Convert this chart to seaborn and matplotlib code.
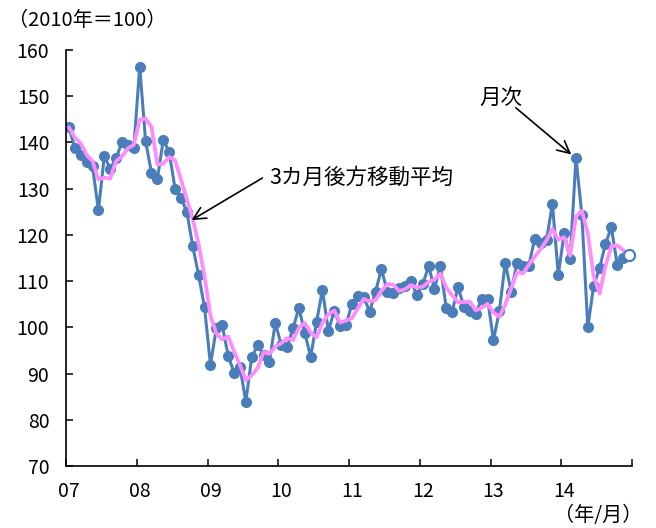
import numpy as np
import pandas as pd
import matplotlib
matplotlib.use('Agg')
import matplotlib.pyplot as plt
import seaborn as sns

# ---- data (2010 = 100), monthly Jan 2007 .. Dec 2014 ----
year_labels = ['07', '08', '09', '10', '11', '12', '13', '14']
v2007 = [143.3, 138.8, 137.3, 135.8, 134.8, 125.3, 137.1, 134.2, 136.6, 140.1, 139.5, 138.8]
v2008 = [156.4, 140.3, 133.4, 132.1, 140.6, 137.9, 130.0, 128.0, 125.0, 117.5, 111.3, 104.3]
v2009 = [91.9, 99.8, 100.4, 93.9, 90.2, 91.5, 83.9, 93.5, 96.2, 94.1, 92.5, 101.0]
v2010 = [96.2, 95.7, 99.8, 104.2, 98.8, 93.6, 101.2, 108.1, 99.2, 103.6, 100.3, 100.5]
v2011 = [105.1, 106.8, 106.6, 103.4, 107.7, 112.6, 107.7, 107.4, 108.5, 108.9, 110.0, 107.0]
v2012 = [109.3, 113.2, 108.4, 113.3, 104.1, 103.4, 108.7, 104.4, 103.6, 102.9, 106.2, 106.2]
v2013 = [97.2, 103.5, 114.0, 107.7, 114.0, 113.3, 113.3, 119.2, 118.3, 118.9, 126.7, 111.3]
v2014 = [120.5, 114.7, 136.7, 124.3, 100.0, 109.0, 112.8, 118.1, 121.6, 113.5, 115.0, 115.7]

monthly = v2007 + v2008 + v2009 + v2010 + v2011 + v2012 + v2013 + v2014
df = pd.DataFrame({'idx': np.arange(len(monthly)), 'monthly': monthly})
df['ma3'] = df['monthly'].rolling(3, min_periods=1).mean()

blue = '#4A7EBB'
pink = '#FF8CFF'

sns.set_theme(style='white')
plt.rcParams['font.family'] = ['Noto Sans CJK JP', 'DejaVu Sans']

fig = plt.figure(figsize=(6.56, 5.28), dpi=100)
W, H = 656, 528
ax = fig.add_axes([66 / W, 1 - 466 / H, (632 - 66) / W, (466 - 50) / H])

n = len(df)
sns.lineplot(data=df, x='idx', y='monthly', ax=ax, color=blue, linewidth=2.2,
             marker='o', markersize=8, markeredgewidth=0,
             markevery=list(range(n - 1)), zorder=2)
sns.lineplot(data=df, x='idx', y='ma3', ax=ax, color=pink, linewidth=2.7, zorder=3)
last = df.iloc[[-1]]
ax.plot(last['idx'], last['monthly'], 'o', mfc='white', mec=blue, ms=8, mew=1.6,
        zorder=4, clip_on=False)

ax.set_xlim(-0.5, n - 0.5)
ax.set_ylim(70, 160)
ax.set_yticks(np.arange(70, 161, 10))
ax.set_xticks(np.arange(-0.5, n, 12))
ax.set_xticklabels([])
ax.set_xticks(np.arange(0, n, 12), minor=True)
ax.set_xticklabels(year_labels, minor=True)
ax.set_xlabel('')
ax.set_ylabel('')

for s in ['top', 'right']:
    ax.spines[s].set_visible(False)
for s in ['left', 'bottom']:
    ax.spines[s].set_color('black')
    ax.spines[s].set_linewidth(1.2)

ax.tick_params(axis='both', which='major', direction='in', length=5, width=1.1,
               color='black', labelsize=14, labelcolor='black')
ax.tick_params(axis='y', which='major', pad=12, left=True)
ax.tick_params(axis='x', which='major', bottom=True)
ax.tick_params(axis='x', which='minor', length=0, pad=11, labelsize=14, labelcolor='black')

fig.text(8 / W, 1 - 20 / H, '（2010年＝100）', ha='left', va='center', fontsize=14.5, color='black')
fig.text(642 / W, 1 - 516 / H, '（年/月）', ha='right', va='center', fontsize=14.5, color='black')

arrow = dict(arrowstyle='->', color='black', lw=1.2, mutation_scale=22, shrinkA=0, shrinkB=0)
ax.annotate('', xy=(20.8, 123.2), xytext=(32.8, 132.3), arrowprops=arrow)
ax.text(34.0, 132.3, '3カ月後方移動平均', ha='left', va='center', fontsize=15.5, color='black')
ax.annotate('', xy=(85.2, 137.4), xytext=(75.8, 147.5), arrowprops=arrow)
ax.text(73.2, 149.6, '月次', ha='center', va='center', fontsize=15.5, color='black')

fig.savefig('out.png', dpi=100)
